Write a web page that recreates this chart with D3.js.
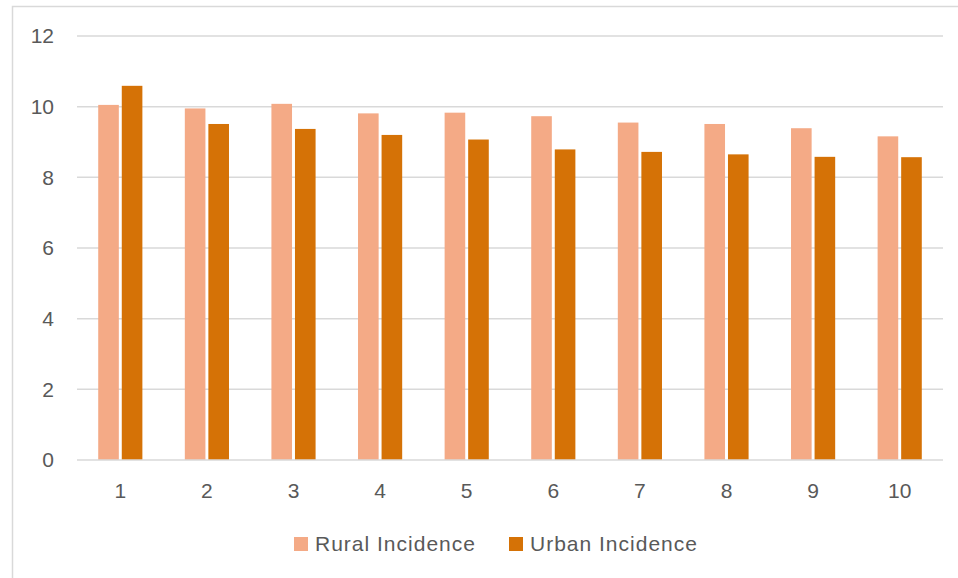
<!DOCTYPE html>
<html>
<head>
<meta charset="utf-8">
<script src="https://cdn.jsdelivr.net/npm/d3@7"></script>
<style>
  body { margin: 0; background: #fff; }
  text { font-family: "Liberation Sans", Arial, sans-serif; fill: #595959; }
</style>
</head>
<body>
<script>
var categories = ["1", "2", "3", "4", "5", "6", "7", "8", "9", "10"];
var rural = [10.05, 9.95, 10.08, 9.81, 9.83, 9.73, 9.55, 9.51, 9.39, 9.16];
var urban = [10.59, 9.51, 9.37, 9.20, 9.07, 8.79, 8.72, 8.65, 8.58, 8.57];
var yTicks = [0, 2, 4, 6, 8, 10, 12];
var seriesNames = ["Rural Incidence", "Urban Incidence"];
var colors = ["#F4AA86", "#D57206"];

var W = 958, H = 578;
var margin = {top: 36, right: 15, bottom: 118, left: 77},
    width = W - margin.left - margin.right,
    height = H - margin.top - margin.bottom;

var svg = d3.select("body").append("svg")
    .attr("width", W)
    .attr("height", H);

// chart border
svg.append("rect")
    .attr("x", 12.5).attr("y", 6.5)
    .attr("width", 980).attr("height", 620)
    .attr("fill", "none")
    .attr("stroke", "#d9d9d9")
    .attr("stroke-width", 1.5);

var g = svg.append("g")
    .attr("transform", "translate(" + margin.left + "," + margin.top + ")");

var xScale = d3.scaleBand()
    .domain(categories)
    .range([0, width]);

var yScale = d3.scaleLinear()
    .domain([0, 12])
    .range([height, 0]);

// inner scale for the two series in each category
var bw = xScale.bandwidth();
var xInner = d3.scaleBand()
    .domain(seriesNames)
    .range([bw * 0.245, bw * 0.755])
    .paddingInner(0.125);

// gridlines
g.append("g")
    .selectAll("line")
    .data(yTicks.filter(function(d) { return d > 0; }))
    .enter().append("line")
    .attr("x1", 0).attr("x2", width)
    .attr("y1", function(d) { return yScale(d); })
    .attr("y2", function(d) { return yScale(d); })
    .attr("stroke", "#d9d9d9")
    .attr("stroke-width", 1.5);

var series = [rural, urban];
series.forEach(function(vals, si) {
  g.append("g")
    .selectAll("rect")
    .data(vals)
    .enter().append("rect")
    .attr("x", function(d, i) { return xScale(categories[i]) + xInner(seriesNames[si]); })
    .attr("y", function(d) { return yScale(d); })
    .attr("width", xInner.bandwidth())
    .attr("height", function(d) { return height - yScale(d); })
    .attr("fill", colors[si]);
});

// baseline
g.append("line")
    .attr("x1", 0).attr("x2", width)
    .attr("y1", height).attr("y2", height)
    .attr("stroke", "#d9d9d9")
    .attr("stroke-width", 1.5);

// y axis labels
var yAxis = d3.axisLeft(yScale).tickValues(yTicks).tickSize(0).tickPadding(23);
g.append("g")
    .call(yAxis)
    .call(function(a) { a.select(".domain").remove(); })
    .selectAll("text")
    .style("font-size", "21px")
    .attr("fill", "#595959");

// x axis labels
var xAxis = d3.axisBottom(xScale).tickSize(0).tickPadding(23);
g.append("g")
    .attr("transform", "translate(0," + height + ")")
    .call(xAxis)
    .call(function(a) { a.select(".domain").remove(); })
    .selectAll("text")
    .style("font-size", "21px")
    .attr("fill", "#595959");

// legend
var legend = svg.append("g");
var legendX = [294, 509];
seriesNames.forEach(function(name, i) {
  legend.append("rect")
    .attr("x", legendX[i]).attr("y", 537)
    .attr("width", 14).attr("height", 14)
    .attr("fill", colors[i]);
  legend.append("text")
    .attr("x", legendX[i] + 21).attr("y", 551)
    .style("font-size", "21px")
    .style("letter-spacing", "1px")
    .text(name);
});
</script>
</body>
</html>
